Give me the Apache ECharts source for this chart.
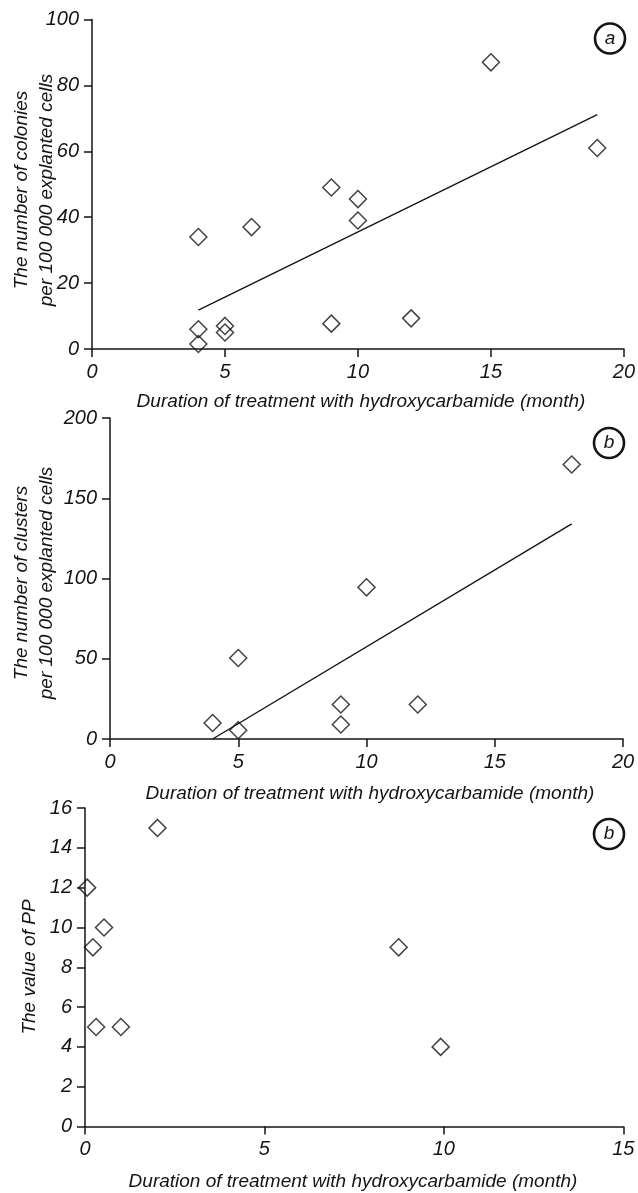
<!DOCTYPE html>
<html>
<head>
<meta charset="utf-8">
<script src="https://cdn.jsdelivr.net/npm/echarts@6/dist/echarts.min.js"></script>
<style>
  html, body { margin: 0; padding: 0; background: #ffffff; }
  #chart { width: 638px; height: 1193px; }
</style>
</head>
<body>
<div id="chart"></div>
<script>
// ---- Data ----
// Panel a: colonies vs duration
const colonyMonths = [4, 4, 4, 5, 5, 6, 9, 9, 10, 10, 12, 15, 19];
const colonyCounts = [34, 6, 1.5, 5, 7, 37, 49, 7.7, 45.5, 39, 9.3, 87, 61];
const colonyFitMonths = [4, 19];
const colonyFitValues = [11.8, 71.1];

// Panel b: clusters vs duration
const clusterMonths = [4, 5, 5, 9, 9, 10, 12, 18];
const clusterCounts = [10, 5.5, 50.5, 21.5, 9, 94.5, 21.5, 171];
const clusterFitMonths = [4, 18];
const clusterFitValues = [0, 134];

// Panel c: PP vs duration
const ppMonths = [0.06, 0.53, 0.22, 0.31, 1.0, 2.02, 8.74, 9.91];
const ppValues = [12, 10, 9, 5, 5, 15, 9, 4];

// Axis ranges / tick intervals
const xRanges = [[0, 20, 5], [0, 20, 5], [0, 15, 5]];
const yRanges = [[0, 100, 20], [0, 200, 50], [0, 16, 2]];

// Texts
const xTitle = 'Duration of treatment with hydroxycarbamide (month)';
const yTitles = [
  'The number of colonies\nper 100 000 explanted cells',
  'The number of clusters\nper 100 000 explanted cells',
  'The value of PP'
];
const panelLetters = ['a', 'b', 'b'];

// ---- Build ----
const FONT = '"Liberation Sans", Arial, sans-serif';
const INK = '#141414';

function zip(xs, ys) { return xs.map((x, i) => [x, ys[i]]); }

function mkAxis(idx, range) {
  return {
    type: 'value', gridIndex: idx,
    min: range[0], max: range[1], interval: range[2],
    axisLine: { show: true, onZero: false, lineStyle: { color: INK, width: 1.5 } },
    axisTick: { show: true, inside: false, length: 8, lineStyle: { color: INK, width: 1.5 } },
    axisLabel: { color: INK, fontSize: 20, fontStyle: 'italic', fontFamily: FONT, margin: 13 },
    splitLine: { show: false }
  };
}

const grids = [
  { left: 92, top: 19.5, width: 538, height: 329.5 },
  { left: 110, top: 418, width: 513, height: 321 },
  { left: 85, top: 808, width: 538.3, height: 318.5 }
];

const scatterStyle = {
  type: 'scatter', symbol: 'diamond', symbolSize: 17,
  itemStyle: { color: 'rgba(0,0,0,0)', borderColor: INK, borderWidth: 1.5 },
  clip: false, z: 3
};
const lineStyle = {
  type: 'line', symbol: 'none', showSymbol: false,
  lineStyle: { color: INK, width: 1.4 }, z: 2
};

const series = [
  Object.assign({}, lineStyle, { xAxisIndex: 0, yAxisIndex: 0, data: zip(colonyFitMonths, colonyFitValues) }),
  Object.assign({}, scatterStyle, { xAxisIndex: 0, yAxisIndex: 0, data: zip(colonyMonths, colonyCounts) }),
  Object.assign({}, lineStyle, { xAxisIndex: 1, yAxisIndex: 1, data: zip(clusterFitMonths, clusterFitValues) }),
  Object.assign({}, scatterStyle, { xAxisIndex: 1, yAxisIndex: 1, data: zip(clusterMonths, clusterCounts) }),
  Object.assign({}, scatterStyle, { xAxisIndex: 2, yAxisIndex: 2, data: zip(ppMonths, ppValues) })
];

const xTitlePos = [[361, 401.5], [370, 793.5], [353, 1181.5]];
const yTitlePos = [[34.5, 190], [34, 583], [30, 967]];
const circlePos = [[610, 38.5], [609, 443], [609, 834]];

const graphic = [];
for (let i = 0; i < 3; i++) {
  graphic.push({
    type: 'text', x: xTitlePos[i][0], y: xTitlePos[i][1],
    style: { text: xTitle, fill: INK, font: 'italic 19px ' + FONT, align: 'center', verticalAlign: 'middle' }
  });
  graphic.push({
    type: 'text', x: yTitlePos[i][0], y: yTitlePos[i][1], rotation: Math.PI / 2,
    style: { text: yTitles[i], fill: INK, font: 'italic 19px ' + FONT, align: 'center', verticalAlign: 'middle', lineHeight: 25 }
  });
  graphic.push({
    type: 'circle', shape: { cx: circlePos[i][0], cy: circlePos[i][1], r: 15 },
    style: { fill: '#fff', stroke: INK, lineWidth: 2.6 }
  });
  graphic.push({
    type: 'text', x: circlePos[i][0], y: circlePos[i][1],
    style: { text: panelLetters[i], fill: INK, font: 'italic 19px ' + FONT, align: 'center', verticalAlign: 'middle' }
  });
}

const chart = echarts.init(document.getElementById('chart'), null, { renderer: 'canvas' });
chart.setOption({
  animation: false,
  backgroundColor: '#ffffff',
  grid: grids,
  xAxis: xRanges.map((r, i) => mkAxis(i, r)),
  yAxis: yRanges.map((r, i) => mkAxis(i, r)),
  series: series,
  graphic: graphic
});
</script>
</body>
</html>
